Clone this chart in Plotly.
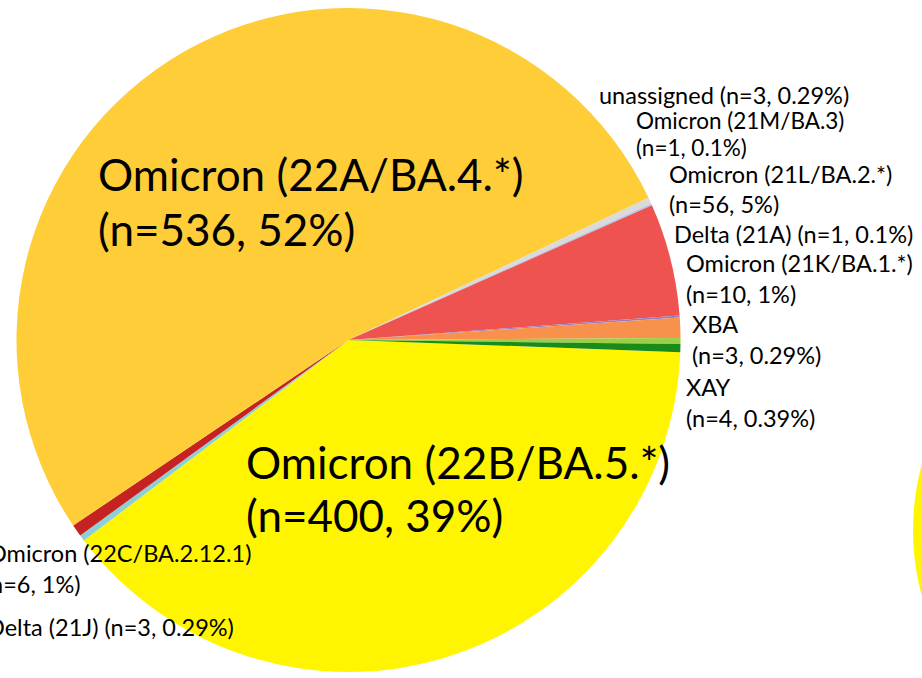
import plotly.graph_objects as go

W, H = 922, 678

# ---- data (clockwise order starting at ~3 o'clock) ----
lineages = ["Omicron (22B/BA.5.*)", "Delta (21J)", "Omicron (22C/BA.2.12.1)",
            "Omicron (22A/BA.4.*)", "unassigned", "Omicron (21M/BA.3)",
            "Omicron (21L/BA.2.*)", "Delta (21A)", "Omicron (21K/BA.1.*)",
            "XBA", "XAY"]
counts = [400, 3, 6, 536, 3, 1, 56, 1, 10, 3, 4]
pct_labels = ["39%", "0.29%", "1%", "52%", "0.29%", "0.1%", "5%", "0.1%", "1%", "0.29%", "0.39%"]
colors = ["#FFF500", "#8CCFD6", "#C62222", "#FECD38", "#DADADA", "#B9C9E6",
          "#EF5350", "#9A7CC2", "#F7914C", "#9BD046", "#1A8A1A"]

def px(x):
    return x / W

def py(y):
    return 1 - y / H

fig = go.Figure()
fig.add_trace(go.Pie(
    labels=lineages, values=counts, sort=False, direction="clockwise",
    rotation=92.1, marker=dict(colors=colors, line=dict(width=0)),
    textinfo="none", textposition="none", hoverinfo="label+value+percent",
    domain=dict(x=[px(16.5), px(680.5)], y=[py(672), py(8)]),
    showlegend=False,
))

FONT = "Lato, 'Open Sans', sans-serif"
BIG, SMALL = 44, 23.5

# label text lines: (line text, x, y_center, size, anchor)
label_lines = [
    ("Omicron (22A/BA.4.*)", 96, 174, BIG, "left"),
    ("(n=536, 52%)", 96, 229, BIG, "left"),
    ("Omicron (22B/BA.5.*)", 244, 462, BIG, "left"),
    ("(n=400, 39%)", 244, 515, BIG, "left"),
    ("unassigned (n=3, 0.29%)", 597, 95, SMALL, "left"),
    ("Omicron (21M/BA.3)", 634, 120, SMALL - 1, "left"),
    ("(n=1, 0.1%)", 634, 147, SMALL - 1, "left"),
    ("Omicron (21L/BA.2.*)", 667, 174, SMALL, "left"),
    ("(n=56, 5%)", 667, 204, SMALL, "left"),
    ("Delta (21A) (n=1, 0.1%)", 672, 234, SMALL, "left"),
    ("Omicron (21K/BA.1.*)", 684, 263, SMALL, "left"),
    ("(n=10, 1%)", 684, 294, SMALL, "left"),
    ("XBA", 690, 324, SMALL, "left"),
    ("(n=3, 0.29%)", 690, 355, SMALL, "left"),
    ("XAY", 684, 387, SMALL, "left"),
    ("(n=4, 0.39%)", 684, 418, SMALL, "left"),
    ("Omicron (22C/BA.2.12.1)", 253, 553, SMALL, "right"),
    ("(n=6, 1%)", 83, 584, SMALL, "right"),
    ("Delta (21J) (n=3, 0.29%)", 236, 627, SMALL, "right"),
]

for txt, x, y, s, anc in label_lines:
    fig.add_annotation(text=txt, x=px(x), y=py(y), xref="paper", yref="paper",
                       xanchor=anc, yanchor="middle", showarrow=False,
                       font=dict(family=FONT, size=s, color="#000000"))

# neighbouring pie, mostly out of frame at the right edge
fig.add_shape(type="circle", xref="paper", yref="paper",
              x0=px(913), x1=px(913 + 500), y0=py(530 + 250), y1=py(530 - 250),
              fillcolor="#FFF500", line=dict(width=0), layer="below")

fig.update_layout(width=W, height=H, margin=dict(l=0, r=0, t=0, b=0),
                  paper_bgcolor="white", plot_bgcolor="white")

fig.write_html("out.html", config={"displayModeBar": False},
               post_script="document.body.style.margin='0';document.body.style.padding='0';")
